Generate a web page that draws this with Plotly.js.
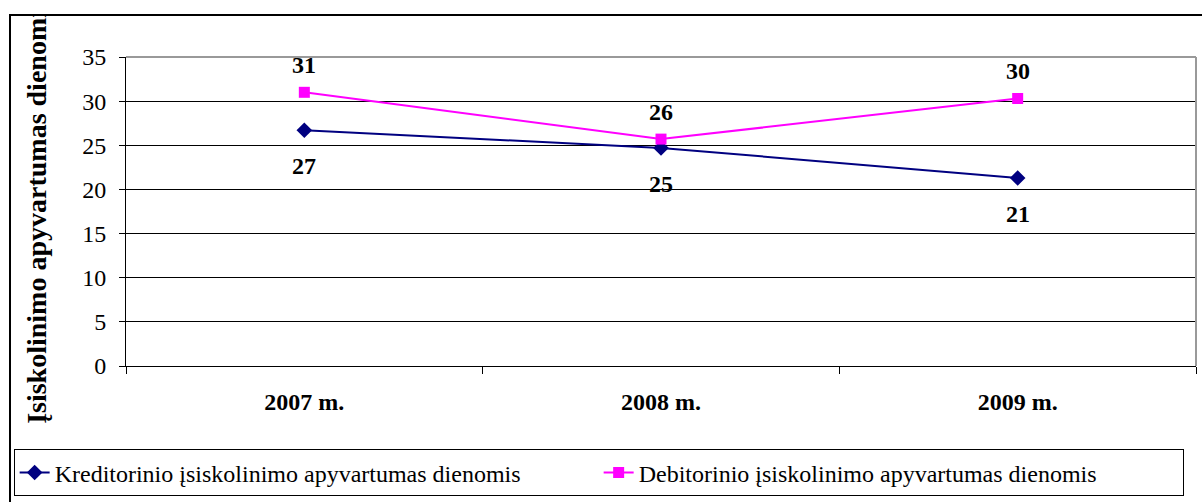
<!DOCTYPE html>
<html>
<head>
<meta charset="utf-8">
<script src="https://cdn.plot.ly/plotly-3.0.1.min.js"></script>
<style>
  html, body { margin: 0; padding: 0; background: #fff; overflow: hidden; }
  #wrap { position: relative; width: 1202px; height: 502px; overflow: hidden; }
  #chart { position: absolute; left: 0; top: 0; width: 1202px; height: 502px; }
  #cover { position: absolute; left: 0; top: 0; width: 1202px; height: 14px; background: #fff; }
  #frame { position: absolute; left: 9px; top: 14px; width: 1300px; height: 600px;
           border-left: 2px solid #000; border-top: 2px solid #000; pointer-events: none; }
</style>
</head>
<body>
<div id="wrap">
  <div id="chart"></div>
  <div id="cover"></div>
  <div id="frame"></div>
</div>
<script>
const categories = ["2007 m.", "2008 m.", "2009 m."];
const kreditValues = [26.7, 24.7, 21.3];
const debitValues = [31.0, 25.7, 30.3];
const kreditLabels = ["27", "25", "21"];
const debitLabels = ["31", "26", "30"];
const seriesNames = [
  "Kreditorinio įsiskolinimo apyvartumas dienomis",
  "Debitorinio įsiskolinimo apyvartumas dienomis"
];
const yTitle = "Įsiskolinimo apyvartumas dienomis";

const serif = "'Liberation Serif', 'Times New Roman', Times, serif";

const traces = [
  {
    x: categories, y: kreditValues, name: seriesNames[0],
    type: "scatter", mode: "lines+markers",
    line: { color: "#000080", width: 2 },
    marker: { symbol: "diamond", size: 12, color: "#000080" }
  },
  {
    x: categories, y: debitValues, name: seriesNames[1],
    type: "scatter", mode: "lines+markers",
    line: { color: "#FF00FF", width: 2 },
    marker: { symbol: "square", size: 11, color: "#FF00FF" }
  }
];

const annotations = [];
categories.forEach((c, i) => {
  annotations.push({ x: c, y: debitValues[i], text: debitLabels[i], showarrow: false,
    yshift: 27, font: { family: serif, size: 24, color: "#000", weight: "bold" } });
  annotations.push({ x: c, y: kreditValues[i], text: kreditLabels[i], showarrow: false,
    yshift: -36, font: { family: serif, size: 24, color: "#000", weight: "bold" } });
});

const layout = {
  width: 1202, height: 502,
  margin: { l: 126, r: 6, t: 57, b: 133 },
  paper_bgcolor: "#fff", plot_bgcolor: "#fff",
  font: { family: serif, size: 24, color: "#000" },
  showlegend: true,
  legend: {
    orientation: "h", x: -0.105, xanchor: "left", y: -0.27, yanchor: "top",
    bordercolor: "#000", borderwidth: 1, bgcolor: "#fff",
    font: { family: serif, size: 24, color: "#000" },
    itemwidth: 30, tracegroupgap: 0,
    entrywidth: 539, entrywidthmode: "pixels"
  },
  xaxis: {
    type: "category", range: [-0.5, 2.5],
    showgrid: false, zeroline: false,
    showline: true, linecolor: "#000", linewidth: 1,
    ticks: "outside", tickson: "boundaries", ticklen: 7, tickcolor: "#000",
    ticklabelstandoff: 14,
    tickfont: { family: serif, size: 24, color: "#000", weight: "bold" }
  },
  yaxis: {
    range: [0, 35], dtick: 5, tick0: 0,
    showgrid: true, gridcolor: "#000", gridwidth: 1,
    zeroline: false,
    showline: true, linecolor: "#000", linewidth: 1,
    ticks: "outside", ticklen: 6, tickcolor: "#000",
    ticklabelstandoff: 8,
    tickfont: { family: serif, size: 24, color: "#000" },
    title: { text: yTitle, standoff: 27,
      font: { family: serif, size: 28, color: "#000", weight: "bold" } }
  },
  shapes: [
    { type: "line", xref: "paper", yref: "paper", x0: 0, x1: 1, y0: 1, y1: 1,
      line: { color: "#999", width: 2 } },
    { type: "line", xref: "paper", yref: "paper", x0: 1, x1: 1, y0: 0, y1: 1,
      line: { color: "#999", width: 2 } }
  ],
  annotations: annotations
};

Plotly.newPlot("chart", traces, layout, { displayModeBar: false, staticPlot: true });
</script>
</body>
</html>
